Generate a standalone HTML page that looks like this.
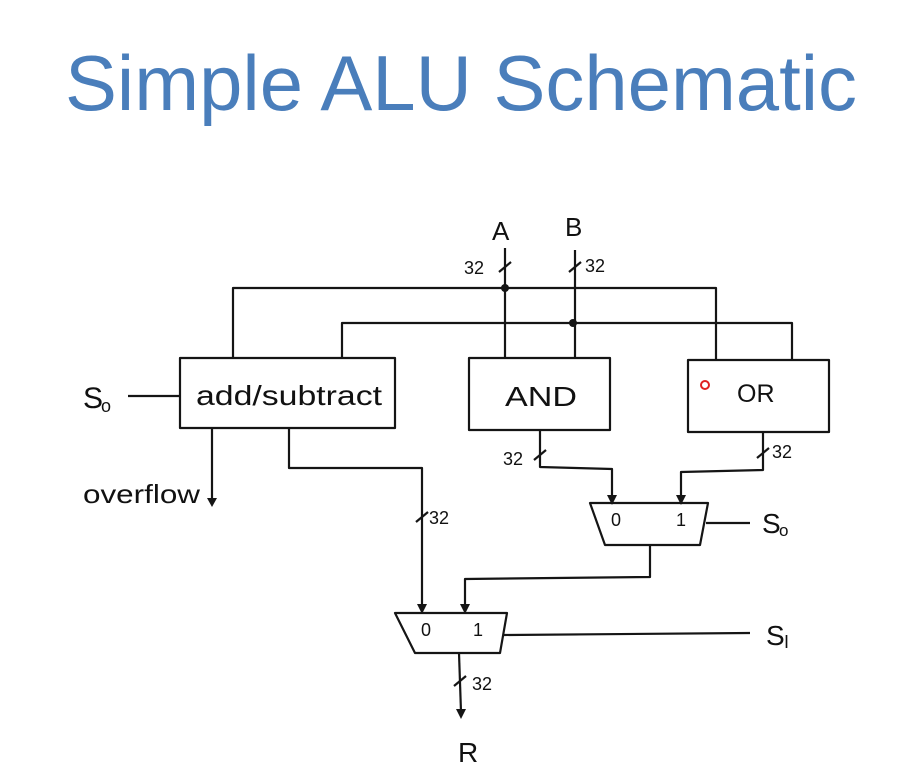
<!DOCTYPE html>
<html><head><meta charset="utf-8"><style>
html,body{margin:0;padding:0;background:#fff;}
svg{display:block;}
text{font-family:"Liberation Sans",sans-serif;fill:#111;}
</style></head><body>
<svg width="897" height="782" viewBox="0 0 897 782" xmlns="http://www.w3.org/2000/svg">
<text x="65" y="110" font-size="78" textLength="792" lengthAdjust="spacingAndGlyphs" style="fill:#4a7ebb">Simple ALU Schematic</text>
<g stroke="#151515" stroke-width="2.2" fill="none" stroke-linejoin="round">
<line x1="505" y1="248" x2="505" y2="358"/>
<line x1="575" y1="250" x2="575" y2="358"/>
<line x1="499" y1="272" x2="511" y2="262"/>
<line x1="569" y1="272" x2="581" y2="262"/>
<polyline points="233,358 233,288 716,288 716,360"/>
<polyline points="342,358 342,323 792,323 792,360"/>
<rect x="180" y="358" width="215" height="70"/>
<rect x="469" y="358" width="141" height="72"/>
<rect x="688" y="360" width="141" height="72"/>
<line x1="128" y1="396" x2="180" y2="396"/>
<line x1="212" y1="428" x2="212" y2="500"/>
<polyline points="289,428 289,468 422,468 422,606"/>
<line x1="416" y1="522" x2="428" y2="512"/>
<polyline points="540,430 540,467 612,469 612,497"/>
<line x1="534" y1="460" x2="546" y2="450"/>
<polyline points="763,432 763,470 681,472 681,497"/>
<line x1="757" y1="458" x2="769" y2="448"/>
<polygon points="590,503 708,503 700,545 605,545"/>
<line x1="706" y1="523" x2="750" y2="523"/>
<polyline points="650,545 650,577 465,579 465,606"/>
<polygon points="395,613 507,613 500,653 415,653"/>
<line x1="504" y1="635" x2="750" y2="633"/>
<line x1="459" y1="653" x2="461" y2="712"/>
<line x1="454" y1="686" x2="466" y2="676"/>
</g>
<g fill="#151515">
<circle cx="505" cy="288" r="4"/>
<circle cx="573" cy="323" r="4"/>
<polygon points="207,498 217,498 212,507"/>
<polygon points="417,604 427,604 422,614"/>
<polygon points="460,604 470,604 465,614"/>
<polygon points="607,495 617,495 612,505"/>
<polygon points="676,495 686,495 681,505"/>
<polygon points="456,709 466,709 461,719"/>
</g>
<g font-size="26">
<text x="492" y="240">A</text>
<text x="565" y="236">B</text>
<text x="83" y="408" font-size="30">S</text><text x="101" y="412" font-size="18">o</text>
<text x="196" y="405" font-size="28" textLength="186" lengthAdjust="spacingAndGlyphs">add/subtract</text>
<text x="505" y="406" font-size="28" textLength="72" lengthAdjust="spacingAndGlyphs">AND</text>
<text x="737" y="402" font-size="25">OR</text>
<text x="83" y="503" font-size="26" textLength="117" lengthAdjust="spacingAndGlyphs">overflow</text>
<text x="762" y="533" font-size="28">S</text><text x="779" y="536" font-size="17">o</text>
<text x="766" y="645" font-size="28">S</text><text x="784" y="648" font-size="18">I</text>
<text x="458" y="762" font-size="28">R</text>
</g>
<g font-size="18">
<text x="464" y="274">32</text>
<text x="585" y="272">32</text>
<text x="503" y="465">32</text>
<text x="772" y="458">32</text>
<text x="429" y="524">32</text>
<text x="472" y="690">32</text>
<text x="611" y="526">0</text>
<text x="676" y="526">1</text>
<text x="421" y="636">0</text>
<text x="473" y="636">1</text>
</g>
<circle cx="705" cy="385" r="4" fill="none" stroke="#e02020" stroke-width="2"/>
</svg>
</body></html>
